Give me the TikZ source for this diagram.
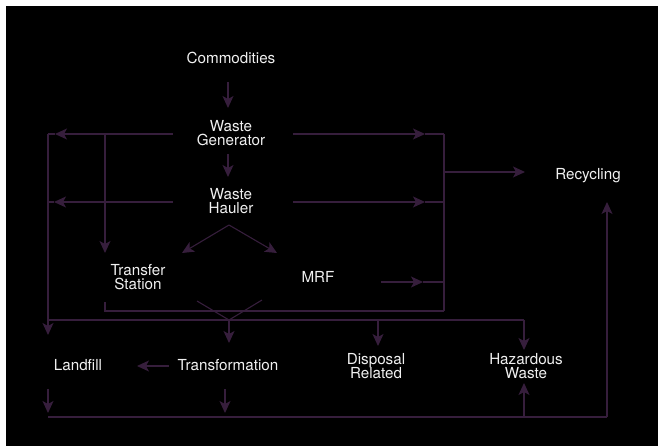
\documentclass[tikz,border=0pt]{standalone}
\usepackage{fontspec}
\setmainfont{TeX Gyre Heros}
\usetikzlibrary{arrows.meta}
\definecolor{ln}{RGB}{54,30,60}
\definecolor{tx}{RGB}{240,240,240}
\begin{document}
\begin{tikzpicture}[x=1pt,y=-1pt,
  lbl/.style={text=tx,font=\fontsize{15.2}{14.5}\selectfont,align=center,inner sep=0pt},
  conn/.style={draw=ln,line width=1.1pt},
  arr/.style={conn,-{Stealth[length=12pt,width=11pt,inset=3pt]}}]
\useasboundingbox (0,0) rectangle (658,446);
\fill[white] (0,0) rectangle (658,446);
\fill[black] (6,6) rectangle (658,446);
% nodes
\node[lbl] (com) at (231,58) {Commodities};
\node[lbl] (gen) at (231,133) {Waste\\Generator};
\node[lbl] (hau) at (231,201) {Waste\\Hauler};
\node[lbl] (ts) at (138,277) {Transfer\\Station};
\node[lbl] (mrf) at (318,277) {MRF};
\node[lbl] (rec) at (588,176) {Recycling};
\node[lbl] (lf) at (78,365) {Landfill};
\node[lbl] (tr) at (228,365) {Transformation};
\node[lbl] (dr) at (376,366) {Disposal\\Related};
\node[lbl] (hz) at (526,366) {Hazardous\\Waste};
% junction coordinates
\coordinate (L1) at (48,134);
\coordinate (L2) at (48,335);
\coordinate (T1) at (105,134);
\coordinate (R1) at (444,134);
\coordinate (R2) at (444,311);
\coordinate (TSb) at (105,302);
\coordinate (TSc) at (105,311);
\coordinate (H1) at (48,320);
\coordinate (H2) at (524,320);
\coordinate (V) at (229,320);
\coordinate (A) at (229,225);
\coordinate (B1) at (48,417);
\coordinate (B2) at (607,417);
% connectors
\draw[arr] (228,82) -- (228,108);
\draw[arr] (228,154) -- (228,177);
\draw[arr] (173,134) -- (55,134);
\draw[conn] (55,134) -- (L1);
\draw[arr] (293,134) -- (425,134);
\draw[conn] (425,134) -- (R1);
\draw[arr] (173,202) -- (54,202);
\draw[conn] (54,202) -- (48,202);
\draw[arr] (293,202) -- (425,202);
\draw[conn] (425,202) -- (444,202);
\draw[conn] (R1) -- (R2);
\draw[arr] (444,172) -- (525,172);
\draw[arr] (381,282) -- (423,282);
\draw[conn] (423,282) -- (444,282);
\draw[conn] (TSb) -- (TSc) -- (R2);
\draw[arr] (T1) -- (105,253);
\draw[arr] (L1) -- (L2);
\draw[conn] (H1) -- (H2);
\draw[arr] (H2) -- (524,350);
\draw[arr] (378,320) -- (378,346);
\draw[conn] (197,301) -- (V) -- (262,300);
\draw[arr] (V) -- (229,343);
\draw[arr] (A) -- (182,253);
\draw[arr] (A) -- (277,253);
\draw[arr] (169,366) -- (137,366);
\draw[arr] (48,389) -- (48,413);
\draw[arr] (225,389) -- (225,413);
\draw[conn] (B1) -- (B2);
\draw[arr] (524,417) -- (524,383);
\draw[arr] (B2) -- (607,202);
\end{tikzpicture}
\end{document}
